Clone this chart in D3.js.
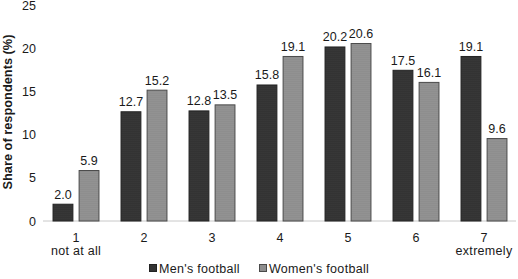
<!DOCTYPE html>
<html>
<head>
<meta charset="utf-8">
<script src="https://cdn.jsdelivr.net/npm/d3@7"></script>
<style>
  body { margin: 0; background: #fff; }
  text { font-family: "Liberation Sans", Arial, sans-serif; fill: #1a1a1a; }
</style>
</head>
<body>
<script>
// chart data
const categories = ["1", "2", "3", "4", "5", "6", "7"];
const subLabels = ["not at all", "", "", "", "", "", "extremely"];
const seriesNames = ["Men's football", "Women's football"];
const mensValues = [2.0, 12.7, 12.8, 15.8, 20.2, 17.5, 19.1];
const womensValues = [5.9, 15.2, 13.5, 19.1, 20.6, 16.1, 9.6];
const yTicks = [0, 5, 10, 15, 20, 25];

const width = 518, height = 279;
const fills = ["#333333", "#8e8e8e"];
const strokes = ["#222222", "#4a4a4a"];
const fontSize = 12.5;

const svg = d3.select("body").append("svg")
    .attr("width", width)
    .attr("height", height);

// dotted texture like the original
const defs = svg.append("defs");
fills.forEach((c, i) => {
    const p = defs.append("pattern")
        .attr("id", "tex" + i)
        .attr("width", 2).attr("height", 2)
        .attr("patternUnits", "userSpaceOnUse");
    p.append("rect").attr("width", 2).attr("height", 2).attr("fill", c);
    p.append("rect").attr("width", 1).attr("height", 1)
        .attr("fill", i === 0 ? "#3a3a3a" : "#969696");
});

// scales
const x = d3.scaleBand()
    .domain(categories)
    .range([42, 518])
    .paddingInner(0.31)
    .paddingOuter(0.155);
const xs = d3.scaleBand()
    .domain(d3.range(2))
    .range([0, x.bandwidth()])
    .paddingInner(0.2);
const y = d3.scaleLinear()
    .domain([0, 25])
    .range([221, 5]);

// baseline
svg.append("line")
    .attr("x1", 43).attr("x2", 516)
    .attr("y1", y(0)).attr("y2", y(0))
    .attr("stroke", "#c8c8c8").attr("stroke-width", 1);

// y axis (labels only)
const yAxis = svg.append("g")
    .attr("transform", "translate(36,0)")
    .call(d3.axisLeft(y).tickValues(yTicks).tickSize(0).tickPadding(0));
yAxis.select(".domain").remove();
yAxis.selectAll("text")
    .attr("font-size", fontSize)
    .attr("font-family", "Liberation Sans, Arial, sans-serif")
    .attr("fill", "#1a1a1a");

svg.append("text")
    .attr("transform", "translate(12,112) rotate(-90)")
    .attr("text-anchor", "middle")
    .attr("font-size", 12.8)
    .attr("font-weight", "bold")
    .text("Share of respondents (%)");

// bars
const data = categories.map((c, i) => ({ c, vals: [mensValues[i], womensValues[i]] }));
const groups = svg.selectAll("g.grp")
    .data(data)
    .join("g")
    .attr("class", "grp")
    .attr("transform", d => `translate(${x(d.c)},0)`);

groups.selectAll("rect")
    .data(d => d.vals.map((v, k) => ({ v, k })))
    .join("rect")
    .attr("x", d => xs(d.k) + 0.5)
    .attr("width", xs.bandwidth() - 1)
    .attr("y", d => y(d.v) + 0.5)
    .attr("height", d => y(0) - y(d.v) - 0.5)
    .attr("fill", d => `url(#tex${d.k})`)
    .attr("stroke", d => strokes[d.k])
    .attr("stroke-width", 1);

groups.selectAll("text.val")
    .data(d => d.vals.map((v, k) => ({ v, k })))
    .join("text")
    .attr("class", "val")
    .attr("x", d => xs(d.k) + xs.bandwidth() / 2)
    .attr("y", d => y(d.v) - 5)
    .attr("text-anchor", "middle")
    .attr("font-size", fontSize)
    .text(d => d.v.toFixed(1));

// x labels
const xAxis = svg.append("g")
    .attr("transform", `translate(0,${y(0)})`)
    .call(d3.axisBottom(x).tickSize(0).tickPadding(0));
xAxis.select(".domain").remove();
xAxis.selectAll("text").remove();
xAxis.selectAll(".tick").each(function(d, i) {
    const t = d3.select(this);
    t.append("text").attr("y", 21).attr("text-anchor", "middle")
        .attr("font-size", fontSize).text(d);
    if (subLabels[i]) {
        t.append("text").attr("y", 34).attr("text-anchor", "middle")
            .attr("font-size", fontSize).attr("letter-spacing", 0.3)
            .text(subLabels[i]);
    }
});

// legend
const legendX = [149, 259];
seriesNames.forEach((name, i) => {
    const g = svg.append("g").attr("transform", `translate(${legendX[i]},263)`);
    g.append("rect").attr("x", 0.5).attr("y", 1.5).attr("width", 7).attr("height", 7)
        .attr("fill", fills[i]).attr("stroke", strokes[i]);
    g.append("text").attr("x", 10).attr("y", 10)
        .attr("font-size", fontSize).attr("letter-spacing", 0.3).text(name);
});
</script>
</body>
</html>
